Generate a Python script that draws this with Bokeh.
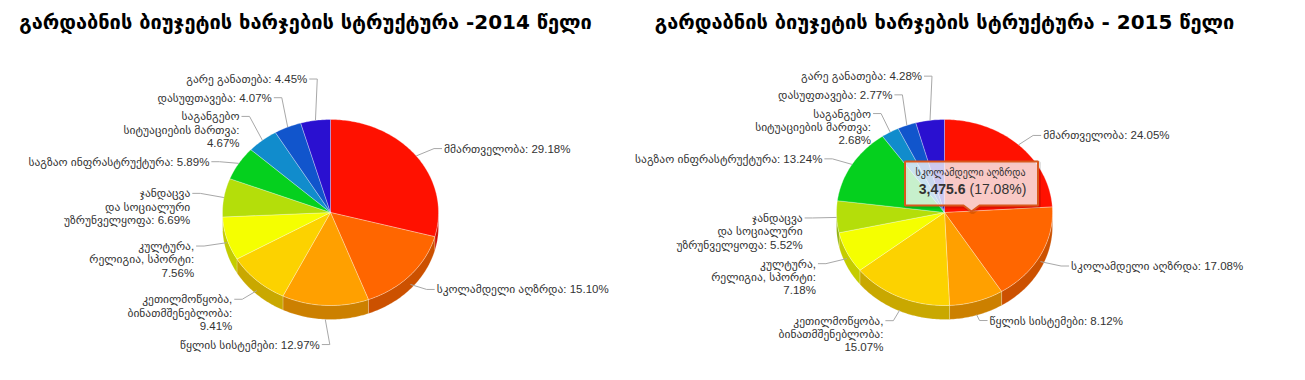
import math
import numpy as np
from bokeh.plotting import figure
from bokeh.models import Range1d
from bokeh.embed import file_html
from bokeh.resources import INLINE
from bokeh.core.properties import value

# ---------------- data ----------------
titles = [
    "გარდაბნის ბიუჯეტის ხარჯების სტრუქტურა -2014 წელი",
    "გარდაბნის ბიუჯეტის ხარჯების სტრუქტურა - 2015 წელი",
]
categories = [
    "მმართველობა",
    "სკოლამდელი აღზრდა",
    "წყლის სისტემები",
    "კეთილმოწყობა, ბინათმშენებლობა",
    "კულტურა, რელიგია, სპორტი",
    "ჯანდაცვა და სოციალური უზრუნველყოფა",
    "საგზაო ინფრასტრუქტურა",
    "საგანგებო სიტუაციების მართვა",
    "დასუფთავება",
    "გარე განათება",
]
# how each data label is wrapped ({} = percentage)
label_templates = [
    "მმართველობა: {}%",
    "სკოლამდელი აღზრდა: {}%",
    "წყლის სისტემები: {}%",
    "კეთილმოწყობა,\nბინათმშენებლობა:\n{}%",
    "კულტურა,\nრელიგია, სპორტი:\n{}%",
    "ჯანდაცვა\nდა სოციალური\nუზრუნველყოფა: {}%",
    "საგზაო ინფრასტრუქტურა: {}%",
    "საგანგებო\nსიტუაციების მართვა:\n{}%",
    "დასუფთავება: {}%",
    "გარე განათება: {}%",
]
share_2014 = [29.18, 15.10, 12.97, 9.41, 7.56, 6.69, 5.89, 4.67, 4.07, 4.45]
share_2015 = [24.05, 17.08, 8.12, 15.07, 7.18, 5.52, 13.24, 2.68, 2.77, 4.28]
slice_colors = ["#FF1100", "#FF6600", "#FFA000", "#FCD200", "#F5FF00",
                "#B4DE0A", "#05D01E", "#118CCC", "#1155CC", "#2A10D0"]
tooltip_category = "სკოლამდელი აღზრდა"
tooltip_value = 3475.6
tooltip_share = 17.08

# ---------------- layout ----------------
W, H = 1289, 363
CXS = [330, 944]
CY = 212
RX, RY, DEPTH = 108, 93, 14
K = RY / RX
R2 = RX + 30
LINE_H = 13.3
LABEL_FONT = value("Liberation Sans, DejaVu Sans")

p = figure(width=W, height=H, output_backend="svg", toolbar_location=None,
           x_range=Range1d(0, W), y_range=Range1d(H, 0),
           x_axis_type=None, y_axis_type=None, min_border=0)
p.grid.visible = False
p.outline_line_color = None
p.background_fill_color = "white"


def darker(hexc, f=0.8):
    r, g, b = int(hexc[1:3], 16), int(hexc[3:5], 16), int(hexc[5:7], 16)
    return "#%02X%02X%02X" % (int(r * f), int(g * f), int(b * f))


def ell(cx, t, dy=0.0):
    return cx + RX * np.sin(t), CY - RY * np.cos(t) + dy


def distribute(items):
    groups = []
    for it in sorted(items, key=lambda d: d["nat"]):
        groups.append({"members": [it], "center": it["nat"] - 7 + it["size"] / 2, "size": it["size"]})
        while len(groups) > 1:
            a, b = groups[-2], groups[-1]
            if a["center"] + a["size"] / 2 > b["center"] - b["size"] / 2:
                members = a["members"] + b["members"]
                centers = [m["nat"] - 7 + m["size"] / 2 for m in members]
                groups[-2:] = [{"members": members, "center": sum(centers) / len(centers),
                                "size": a["size"] + b["size"]}]
            else:
                break
    for g in groups:
        top = g["center"] - g["size"] / 2
        for m in g["members"]:
            m["y"] = top + 7
            top += m["size"]


for ci, (shares, cx, title) in enumerate(zip([share_2014, share_2015], CXS, titles)):
    total = sum(shares)
    cum = np.concatenate([[0], np.cumsum(shares)]) / total * 2 * math.pi
    side_xs, side_ys, side_c = [], [], []
    top_xs, top_ys, top_c = [], [], []
    for i in range(len(shares)):
        a0, a1 = cum[i], cum[i + 1]
        t = np.linspace(a0, a1, max(4, int((a1 - a0) * 60)))
        x, y = ell(cx, t)
        top_xs.append([cx] + list(x))
        top_ys.append([CY] + list(y))
        top_c.append(slice_colors[i])
        s0, s1 = max(a0, math.pi / 2), min(a1, 3 * math.pi / 2)
        if s1 > s0:
            ts = np.linspace(s0, s1, max(4, int((s1 - s0) * 60)))
            x1, y1 = ell(cx, ts)
            x2, y2 = ell(cx, ts[::-1], DEPTH)
            side_xs.append(list(x1) + list(x2))
            side_ys.append(list(y1) + list(y2))
            side_c.append(darker(slice_colors[i]))
    p.patches(side_xs, side_ys, fill_color=side_c, line_color="#FFFFFF", line_alpha=0.35, line_width=0.6)
    p.patches(top_xs, top_ys, fill_color=top_c, line_color="#FFFFFF", line_alpha=0.5, line_width=0.6)

    # data labels
    items = []
    for i in range(len(shares)):
        mid = (cum[i] + cum[i + 1]) / 2
        left = math.sin(mid) < 0
        if left:
            nat = CY - R2 * K * math.cos(mid)
        else:
            nat = CY + 3 - 110 * math.cos(mid)
        lines = label_templates[i].format("%.2f" % shares[i]).split("\n")
        items.append({"i": i, "mid": mid, "nat": nat, "lines": lines,
                      "left": left, "size": len(lines) * LINE_H + 5.4})
    for side in (True, False):
        distribute([it for it in items if it["left"] == side])

    tx, ty, tt = {True: [], False: []}, {True: [], False: []}, {True: [], False: []}
    cxs, cys = [], []
    for it in items:
        off = R2 * abs(math.sin(it["mid"]))
        sgn = -1 if it["left"] else 1
        edge = cx + sgn * off + sgn * 4
        for li, line in enumerate(it["lines"]):
            tx[it["left"]].append(edge)
            ty[it["left"]].append(it["y"] + li * LINE_H)
            tt[it["left"]].append(line)
        px, py = ell(cx, it["mid"], DEPTH * max(0.0, -math.cos(it["mid"])))
        cxs.append([edge - sgn * 2, edge - sgn * 10, px])
        cys.append([it["y"], it["y"], py])
    p.multi_line(cxs, cys, line_color="#A8A8A8", line_width=1)
    p.text(tx[True], ty[True], text=tt[True], text_align="right", text_baseline="middle",
           text_font=LABEL_FONT, text_font_size="11.5px", text_color="#333333")
    p.text(tx[False], ty[False], text=tt[False], text_align="left", text_baseline="middle",
           text_font=LABEL_FONT, text_font_size="11.5px", text_color="#333333")

    # title
    p.text([cx - (25 if ci == 0 else 0)], [21], text=[title], text_align="center", text_baseline="middle",
           text_font=value("DejaVu Sans"), text_font_style="bold", text_font_size="20px",
           text_color="#000000")

# ---------------- tooltip (2015, pre-school slice) ----------------
tip_x, tip_y = CXS[1] + 27, CY - 1
bw, bh = 133, 44
bx0, bx1 = tip_x - bw / 2, tip_x + bw / 2
by1 = tip_y - 6
by0 = by1 - bh
tx_ = [bx0, bx1, bx1, tip_x + 8, tip_x, tip_x - 8, bx0]
ty_ = [by0, by0, by1, by1, tip_y, by1, by1]
p.patch([v + 1 for v in tx_], [v + 1 for v in ty_], fill_alpha=0, line_color="#000000",
        line_alpha=0.12, line_width=4)
p.patch(tx_, ty_, fill_color="#F7F7F7", fill_alpha=0.8, line_color="#D9581C", line_width=2)
p.text([tip_x - 1], [by0 + 11], text=[tooltip_category], text_align="center", text_baseline="middle",
       text_font=LABEL_FONT, text_font_size="10px", text_color="#333333")
p.text([tip_x - 6], [by0 + 27], text=["{:,.1f}".format(tooltip_value)], text_align="right",
       text_baseline="middle", text_font=value("Liberation Sans"), text_font_style="bold",
       text_font_size="14px", text_color="#333333")
p.text([tip_x - 2], [by0 + 27], text=["(%.2f%%)" % tooltip_share], text_align="left",
       text_baseline="middle", text_font=value("Liberation Sans"),
       text_font_size="14px", text_color="#333333")

open("out.html", "w").write(file_html(p, INLINE))
